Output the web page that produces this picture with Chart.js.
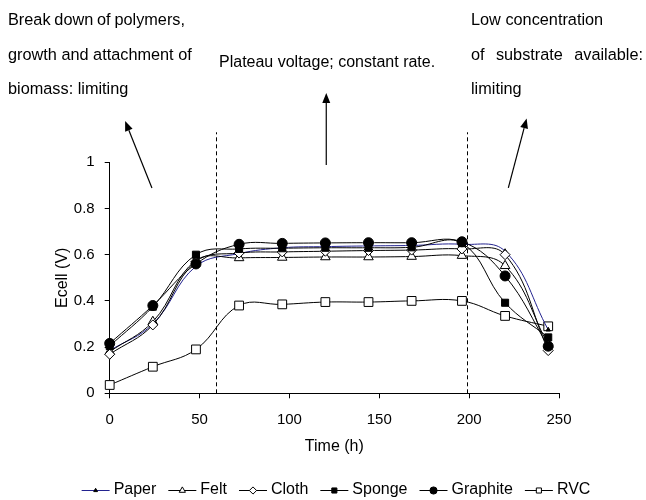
<!DOCTYPE html>
<html><head><meta charset="utf-8">
<script src="https://cdn.jsdelivr.net/npm/chart.js@4"></script>
<style>html,body{margin:0;padding:0;background:#fff}canvas{display:block}</style>
</head><body>
<canvas id="c" width="646" height="500"></canvas>
<script>
// ---- data ----
const times    = [0, 24, 48, 72, 96, 120, 144, 168, 196, 220, 244];
const paper    = [0.185, 0.30, 0.55, 0.605, 0.630, 0.635, 0.638, 0.640, 0.645, 0.615, 0.275];
const felt     = [0.180, 0.31, 0.575, 0.586, 0.588, 0.590, 0.590, 0.592, 0.596, 0.552, 0.210];
const cloth    = [0.169, 0.296, 0.57, 0.607, 0.612, 0.615, 0.618, 0.620, 0.625, 0.600, 0.185];
const sponge   = [0.205, 0.375, 0.60, 0.625, 0.628, 0.630, 0.630, 0.632, 0.650, 0.392, 0.242];
const graphite = [0.216, 0.380, 0.56, 0.645, 0.649, 0.651, 0.652, 0.652, 0.656, 0.508, 0.204];
const rvc      = [0.036, 0.115, 0.19, 0.380, 0.385, 0.395, 0.395, 0.400, 0.400, 0.335, 0.290];
const seriesNames = ['Paper', 'Felt', 'Cloth', 'Sponge', 'Graphite', 'RVC'];
const xTickValues = [0, 50, 100, 150, 200, 250];
const yTickValues = [0, 0.2, 0.4, 0.6, 0.8, 1];
const phaseDividers = [59, 199];
const dividerTop = 1.13;
const arrows = [ {from:[23.5, 0.889], to:[8.6, 1.179]},
                 {from:[120.5, 0.988], to:[120.5, 1.30]},
                 {from:[221.8, 0.889], to:[232.0, 1.19]} ];
const noteLeft  = ['Break down of polymers,', 'growth and attachment of', 'biomass: limiting'];
const noteMid   = ['Plateau voltage; constant rate.'];
const noteRight = ['Low concentration', 'of substrate available:', 'limiting'];

// ---- styles ----
const FONT = "'Liberation Sans', Arial, Helvetica, sans-serif";
Chart.defaults.font.family = FONT;
Chart.defaults.color = '#000';

const styles = [
  {borderColor:'#23238f', pointStyle:'triangle', pointRadius:2.5, pointBackgroundColor:'#000', pointBorderColor:'#000', order:5},
  {borderColor:'#000', pointStyle:'triangle', pointRadius:5.5, pointBackgroundColor:'#fff', pointBorderColor:'#000', order:4},
  {borderColor:'#000', pointStyle:'rectRot', pointRadius:5, pointBackgroundColor:'#fff', pointBorderColor:'#000', order:3},
  {borderColor:'#000', pointStyle:'rect', pointRadius:5, pointBackgroundColor:'#000', pointBorderColor:'#000', order:2},
  {borderColor:'#000', pointStyle:'circle', pointRadius:5, pointBackgroundColor:'#000', pointBorderColor:'#000', order:1},
  {borderColor:'#000', pointStyle:'rect', pointRadius:6.2, pointBackgroundColor:'#fff', pointBorderColor:'#000', order:6}
];
const allSeries = [paper, felt, cloth, sponge, graphite, rvc];

const datasets = allSeries.map((vals, i) => Object.assign({
  label: seriesNames[i],
  data: times.map((t, k) => ({x: t, y: vals[k]})),
  borderWidth: 1,
  pointBorderWidth: 1,
  tension: 0.4,
  fill: false,
  clip: false
}, styles[i]));

function drawMarker(ctx, st, x, y, r) {
  Chart.helpers.drawPoint(ctx, {pointStyle: st.pointStyle, radius: r, rotation: 0, borderWidth: 1}, x, y);
}

function drawJustified(ctx, text, x, y, width) {
  const words = text.split(' ');
  const wsum = words.reduce((s, w) => s + ctx.measureText(w).width, 0);
  const gap = (width - wsum) / (words.length - 1);
  let cx = x;
  words.forEach(w => { ctx.fillText(w, cx, y); cx += ctx.measureText(w).width + gap; });
}

const overlay = {
  id: 'overlay',
  beforeDatasetsDraw(chart) {
    const ctx = chart.ctx, xs = chart.scales.x, ys = chart.scales.y;
    ctx.save();
    ctx.setLineDash([4, 3]);
    ctx.strokeStyle = '#000'; ctx.lineWidth = 1;
    phaseDividers.forEach(d => {
      const px = Math.round(xs.getPixelForValue(d)) + 0.5;
      ctx.beginPath();
      ctx.moveTo(px, ys.getPixelForValue(0));
      ctx.lineTo(px, ys.getPixelForValue(dividerTop));
      ctx.stroke();
    });
    ctx.restore();
  },
  afterDraw(chart) {
    const ctx = chart.ctx, xs = chart.scales.x, ys = chart.scales.y;
    ctx.save();
    // arrows
    ctx.strokeStyle = '#000'; ctx.fillStyle = '#000'; ctx.lineWidth = 1.2;
    arrows.forEach(a => {
      const x1 = xs.getPixelForValue(a.from[0]), y1 = ys.getPixelForValue(a.from[1]);
      const x2 = xs.getPixelForValue(a.to[0]), y2 = ys.getPixelForValue(a.to[1]);
      const ang = Math.atan2(y2 - y1, x2 - x1);
      const L = 10, W = 4;
      const bx = x2 - L * Math.cos(ang), by = y2 - L * Math.sin(ang);
      ctx.beginPath(); ctx.moveTo(x1, y1); ctx.lineTo(bx, by); ctx.stroke();
      ctx.beginPath();
      ctx.moveTo(x2, y2);
      ctx.lineTo(bx + W * Math.sin(ang), by - W * Math.cos(ang));
      ctx.lineTo(bx - W * Math.sin(ang), by + W * Math.cos(ang));
      ctx.closePath(); ctx.fill();
    });
    // notes
    ctx.font = '16.3px ' + FONT;
    ctx.textBaseline = 'middle'; ctx.textAlign = 'left';
    const rows = [21, 56, 90];
    drawJustified(ctx, noteLeft[0], 8, rows[0], 177);
    ctx.fillText(noteLeft[1], 8, rows[1]);
    ctx.fillText(noteLeft[2], 8, rows[2]);
    ctx.font = '16px ' + FONT;
    ctx.fillText(noteMid[0], 219, 63);
    ctx.font = '16.3px ' + FONT;
    ctx.fillText(noteRight[0], 471, rows[0]);
    drawJustified(ctx, noteRight[1], 471, rows[1], 172);
    ctx.fillText(noteRight[2], 471, rows[2]);
    // legend
    ctx.font = '16px ' + FONT;
    const symW = 28, gapS = 4, gapI = 12, ly = 490;
    let total = 0;
    seriesNames.forEach((n, i) => { total += symW + gapS + ctx.measureText(n).width + (i < seriesNames.length - 1 ? gapI : 0); });
    let lx = 336 - total / 2;
    seriesNames.forEach((n, i) => {
      const st = styles[i];
      ctx.strokeStyle = st.borderColor; ctx.lineWidth = 1;
      ctx.beginPath(); ctx.moveTo(lx, ly + 0.5); ctx.lineTo(lx + symW, ly + 0.5); ctx.stroke();
      ctx.fillStyle = st.pointBackgroundColor; ctx.strokeStyle = st.pointBorderColor;
      drawMarker(ctx, st, lx + symW / 2, ly + 0.5, i === 0 ? 2.2 : 3.6);
      ctx.fillStyle = '#000';
      ctx.fillText(n, lx + symW + gapS, ly);
      lx += symW + gapS + ctx.measureText(n).width + gapI;
    });
    ctx.restore();
  }
};

new Chart(document.getElementById('c'), {
  type: 'line',
  data: { datasets },
  options: {
    responsive: false,
    animation: false,
    devicePixelRatio: 1,
    layout: { padding: { left: 49.4, right: 87, top: 162.3, bottom: 39.7 } },
    plugins: { legend: { display: false }, tooltip: { enabled: false } },
    scales: {
      x: {
        type: 'linear', min: 0, max: 250,
        afterBuildTicks: s => { s.ticks = xTickValues.map(v => ({value: v})); },
        afterFit: s => { s.height = 67; },
        ticks: { font: { size: 15 }, padding: 13, maxRotation: 0, autoSkip: false, color: '#000' },
        grid: { drawOnChartArea: false, tickLength: 5, color: '#000', tickColor: '#000' },
        border: { color: '#000', width: 1 },
        title: { display: true, text: 'Time (h)', font: { size: 16 }, color: '#000', padding: { top: 4, bottom: 4 } }
      },
      y: {
        type: 'linear', min: 0, max: 1,
        afterBuildTicks: s => { s.ticks = yTickValues.map(v => ({value: v})); },
        afterFit: s => { s.width = 60.3; },
        ticks: { font: { size: 15 }, padding: 10, color: '#000', callback: v => String(v) },
        grid: { drawOnChartArea: false, tickLength: 5, color: '#000', tickColor: '#000' },
        border: { color: '#000', width: 1 },
        title: { display: true, text: 'Ecell (V)', font: { size: 16 }, color: '#000', padding: { top: 4, bottom: 4 } }
      }
    }
  },
  plugins: [overlay]
});
</script>
</body></html>
